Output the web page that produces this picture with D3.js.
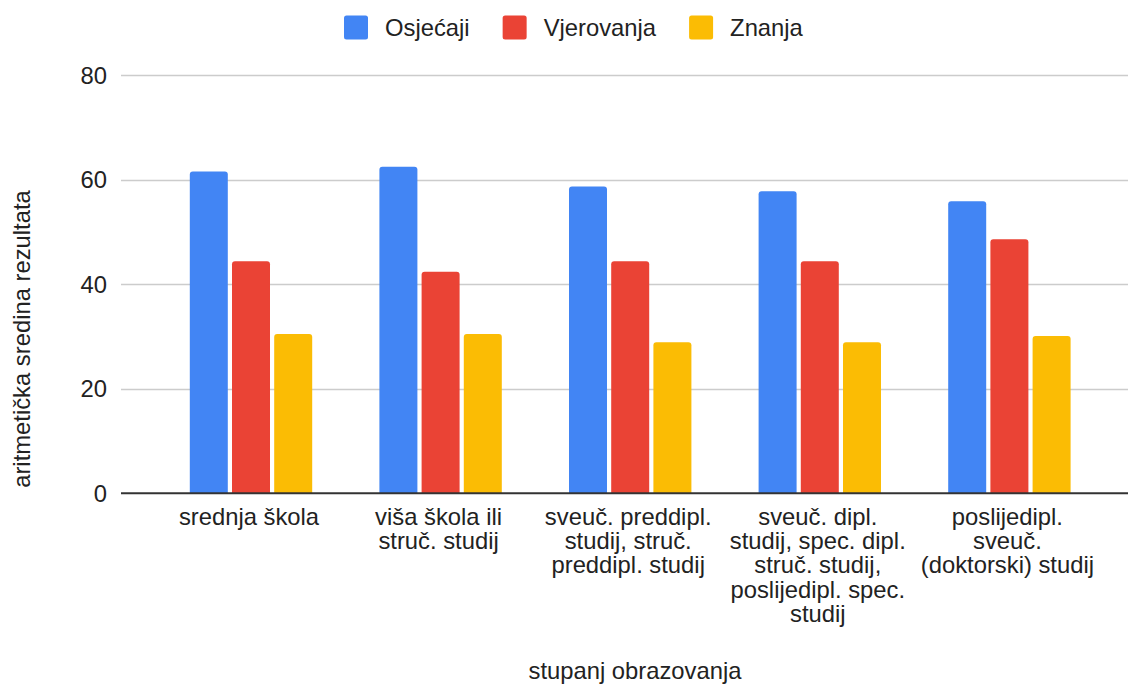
<!DOCTYPE html>
<html>
<head>
<meta charset="utf-8">
<script src="https://cdn.jsdelivr.net/npm/d3@7"></script>
<style>
  html, body { margin: 0; padding: 0; background: #fff; }
  svg { display: block; font-family: "Liberation Sans", Arial, sans-serif; }
</style>
</head>
<body>
<svg id="chart" width="1128" height="686"></svg>
<script>
const categories = [
  "srednja škola",
  "viša škola ili struč. studij",
  "sveuč. preddipl. studij, struč. preddipl. studij",
  "sveuč. dipl. studij, spec. dipl. struč. studij, poslijedipl. spec. studij",
  "poslijedipl. sveuč. (doktorski) studij"
];
const categoryLines = [
  ["srednja škola"],
  ["viša škola ili", "struč. studij"],
  ["sveuč. preddipl.", "studij, struč.", "preddipl. studij"],
  ["sveuč. dipl.", "studij, spec. dipl.", "struč. studij,", "poslijedipl. spec.", "studij"],
  ["poslijedipl.", "sveuč.", "(doktorski) studij"]
];
const seriesNames = ["Osjećaji", "Vjerovanja", "Znanja"];
const osjecaji   = [61.6, 62.5, 58.7, 57.8, 55.9];
const vjerovanja = [44.4, 42.4, 44.4, 44.4, 48.6];
const znanja     = [30.5, 30.5, 28.9, 28.9, 30.1];
const yTicks = [0, 20, 40, 60, 80];
const colors = ["#4285F4", "#EA4335", "#FBBC04"];
const yTitle = "aritmetička sredina rezultata";
const xTitle = "stupanj obrazovanja";

const seriesValues = [osjecaji, vjerovanja, znanja];
const svg = d3.select("#chart");
const FONT = 23.8;

const y = d3.scaleLinear().domain([0, 80]).range([493.3, 75.3]);
const x0 = d3.scaleBand().domain(d3.range(categories.length)).range([156.2, 1104.2]).paddingInner(0).paddingOuter(0);
const barW = 38, barGap = 4.2;
const groupW = 3 * barW + 2 * barGap;

// gridlines
svg.append("g").selectAll("line").data(yTicks.filter(d => d !== 0)).join("line")
  .attr("x1", 121).attr("x2", 1128)
  .attr("y1", d => Math.round(y(d)) + 0.5).attr("y2", d => Math.round(y(d)) + 0.5)
  .attr("stroke", "#cccccc").attr("stroke-width", 1.3);

// y tick labels
svg.append("g").selectAll("text").data(yTicks).join("text")
  .attr("x", 107).attr("y", d => y(d) + 8.6)
  .attr("text-anchor", "end").attr("font-size", FONT).attr("fill", "#222")
  .text(d => d);

// bars with rounded tops
function barPath(x, yTop, w, yBase, r) {
  const h = yBase - yTop;
  r = Math.min(r, h, w / 2);
  return `M${x},${yBase}V${yTop + r}Q${x},${yTop} ${x + r},${yTop}H${x + w - r}Q${x + w},${yTop} ${x + w},${yTop + r}V${yBase}Z`;
}
const barData = [];
categories.forEach((c, i) => {
  seriesValues.forEach((vals, s) => {
    barData.push({ i, s, v: vals[i] });
  });
});
svg.append("g").selectAll("path").data(barData).join("path")
  .attr("d", d => {
    const gx = x0(d.i) + x0.bandwidth() / 2 - groupW / 2 + d.s * (barW + barGap);
    return barPath(gx, y(d.v), barW, y(0), 3);
  })
  .attr("fill", d => colors[d.s]);

// zero axis line
svg.append("line").attr("x1", 121).attr("x2", 1128)
  .attr("y1", y(0)).attr("y2", y(0))
  .attr("stroke", "#333").attr("stroke-width", 2);

// category labels
const catG = svg.append("g");
categoryLines.forEach((lines, i) => {
  const cx = x0(i) + x0.bandwidth() / 2 - 2;
  const t = catG.append("text")
    .attr("x", cx)
    .attr("y", 525)
    .attr("text-anchor", "middle").attr("font-size", FONT).attr("fill", "#222");
  lines.forEach((ln, k) => {
    t.append("tspan").attr("x", cx).attr("y", 525 + k * 24.2).text(ln);
  });
});

// axis titles
svg.append("text").attr("x", 635).attr("y", 679).attr("text-anchor", "middle")
  .attr("font-size", FONT).attr("fill", "#222").text(xTitle);
svg.append("text").attr("transform", "translate(30,339) rotate(-90)")
  .attr("text-anchor", "middle").attr("font-size", FONT).attr("fill", "#222").text(yTitle);

// legend
const leg = svg.append("g");
let lx = 344;
seriesNames.forEach((name, s) => {
  leg.append("rect").attr("x", lx).attr("y", 15.5).attr("width", 24).attr("height", 24)
    .attr("rx", 2.5).attr("fill", colors[s]);
  const t = leg.append("text").attr("x", lx + 41).attr("y", 36)
    .attr("font-size", FONT).attr("fill", "#222").text(name);
  lx = lx + 41 + t.node().getComputedTextLength() + 33;
});
</script>
</body>
</html>
